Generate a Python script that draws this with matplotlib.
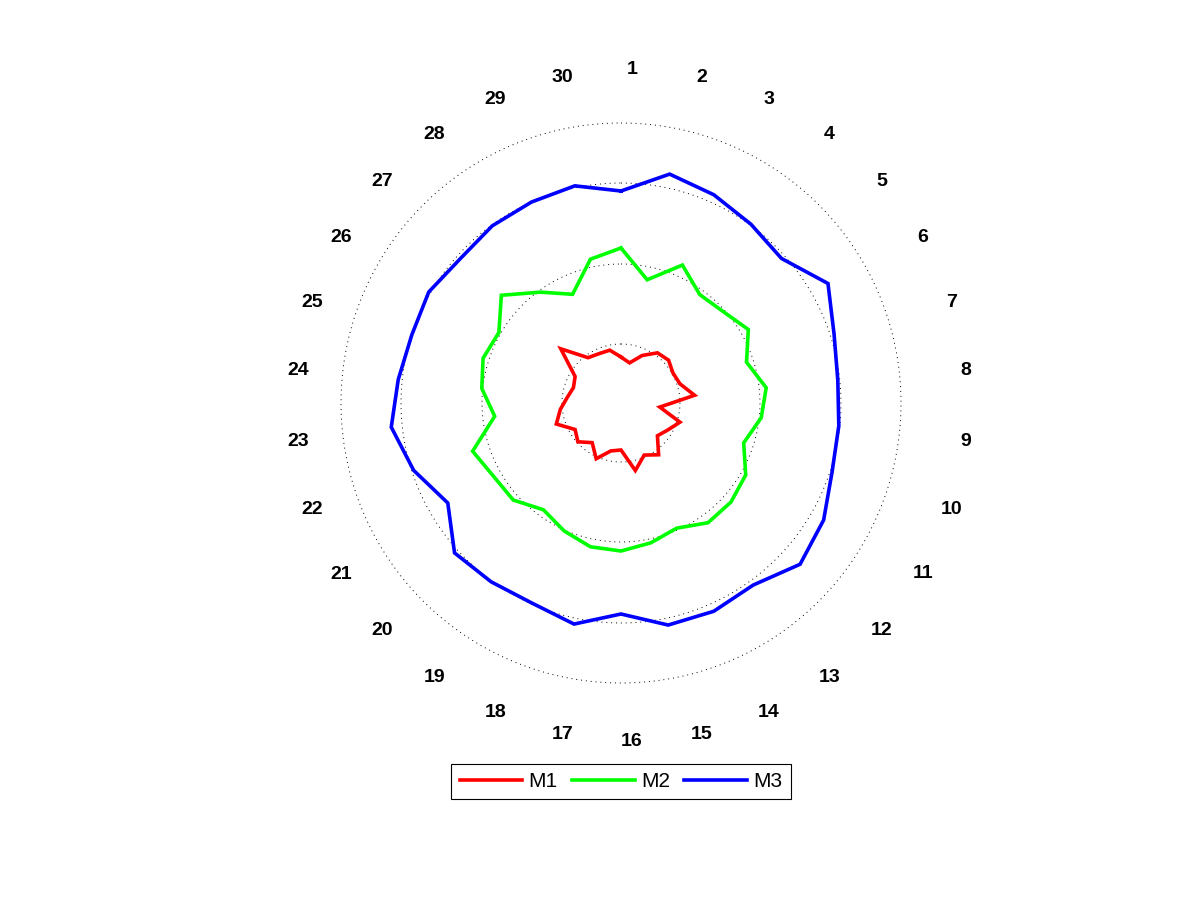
import numpy as np
import matplotlib
matplotlib.use("Agg")
import matplotlib.pyplot as plt
from matplotlib.transforms import offset_copy
from matplotlib.lines import Line2D

plt.rcParams['font.family'] = ['Liberation Sans', 'DejaVu Sans']

# ---- data (radial values) ----
spokes = [str(k) for k in range(1, 31)]
m1 = [46, 41, 52, 62, 64, 60, 62, 74, 39, 62, 54, 49, 64, 57, 69,
      47, 49, 61, 49, 58, 53, 68, 61, 54, 50, 53, 81, 56, 54, 54]
m2 = [155, 126, 151, 134, 137, 147, 132, 146, 141, 129, 144, 148, 148, 137, 143,
      148, 147, 140, 132, 145, 147, 156, 127, 140, 145, 141, 161, 137, 119, 147]
m3 = [212, 234, 228, 221, 216, 239, 224, 218, 219, 222, 234, 241, 225, 228, 227,
      211, 226, 219, 221, 224, 200, 218, 231, 224, 220, 222, 216, 219, 220, 222]
series_names = ['M1', 'M2', 'M3']
series_colors = ['#ff0000', '#00ff00', '#0000ff']
ring_levels = [59, 139, 220, 280]
r_max = 280
label_radius = 336

fig = plt.figure(figsize=(12, 9), dpi=100)
ax = fig.add_axes([(621 - 280) / 1200, (497 - 280) / 900, 560 / 1200, 560 / 900],
                  projection='polar')
ax.set_theta_zero_location('N')
ax.set_theta_direction(-1)
ax.set_ylim(0, r_max)
ax.axis('off')

n = len(spokes)
theta = np.arange(n) * 2 * np.pi / n

# dotted rings
tt = np.linspace(0, 2 * np.pi, 721)
for lv in ring_levels:
    ax.plot(tt, np.full_like(tt, lv), color='black', lw=0.7,
            linestyle=(0, (1, 4)), zorder=1, clip_on=False)

handles = []
for vals, name, col in zip([m1, m2, m3], series_names, series_colors):
    th = np.append(theta, theta[0])
    rr = np.append(vals, vals[0])
    ax.plot(th, rr, color=col, lw=2.6, zorder=3, clip_on=False,
            solid_joinstyle='miter')
    handles.append(Line2D([], [], color=col, lw=2.6))

trans = offset_copy(ax.transData, fig=fig, x=11, y=-3, units='dots')
for t, lab in zip(theta, spokes):
    ax.text(t, label_radius, lab, transform=trans, ha='center', va='center',
            fontsize=14, fontweight='bold', clip_on=False)

leg = fig.legend(handles, series_names, loc='center',
                 bbox_to_anchor=(621 / 1200, 1 - 781.5 / 900), ncol=3,
                 frameon=True, fancybox=False, edgecolor='black', framealpha=1,
                 fontsize=15, handlelength=3.0, handletextpad=0.3,
                 columnspacing=0.7, borderpad=0.4, borderaxespad=0)
leg.get_frame().set_linewidth(0.8)

fig.savefig('out.png', dpi=100)
